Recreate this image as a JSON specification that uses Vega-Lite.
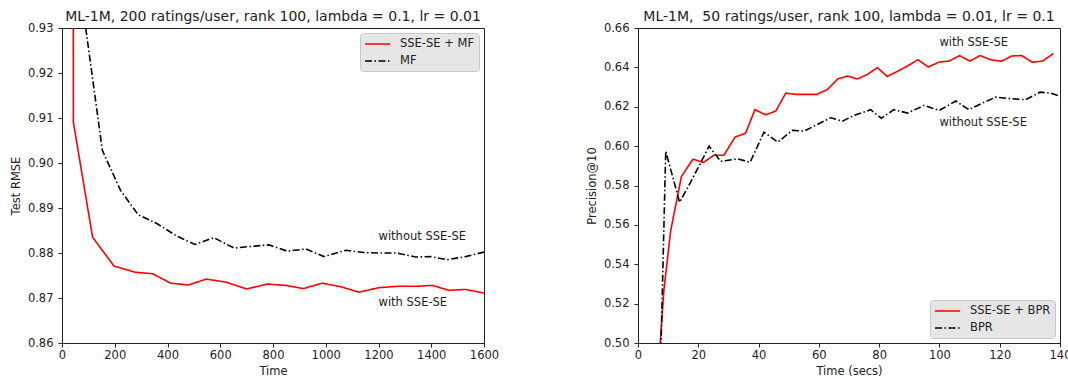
{
  "$schema": "https://vega.github.io/schema/vega-lite/v6.json",
  "background": "white",
  "padding": {"left": 9, "top": 9, "right": 0, "bottom": 0},
  "spacing": 154,
  "bounds": "flush",
  "config": {
    "font": "DejaVu Sans",
    "view": {"stroke": "#222", "strokeWidth": 1},
    "axis": {
      "grid": false,
      "domainColor": "#222",
      "tickColor": "#222",
      "tickSize": 4,
      "labelFont": "DejaVu Sans",
      "labelFontSize": 11.5,
      "labelColor": "#222",
      "labelOverlap": false,
      "labelFlush": false,
      "labelSeparation": 0,
      "titleFont": "DejaVu Sans",
      "titleFontSize": 11.5,
      "titleFontWeight": "normal",
      "titleColor": "#222",
      "labelPadding": 2
    },
    "title": {"font": "DejaVu Sans", "fontSize": 14, "fontWeight": "normal", "color": "#222", "offset": -2},
    "legend": {
      "labelFont": "DejaVu Sans",
      "labelFontSize": 11.5,
      "labelColor": "#222",
      "fillColor": "#e6e6e6",
      "strokeColor": "#c8c8c8",
      "cornerRadius": 3,
      "padding": 4,
      "symbolType": "M-1,0H3.2",
      "symbolSize": 144,
      "symbolStrokeWidth": 1.6,
      "rowPadding": 4,
      "labelOffset": 22,
      "title": null
    }
  },
  "datasets": {
    "rmse": [
      {"series": "SSE-SE + MF", "time": 42.5, "value": 1.0},
      {"series": "SSE-SE + MF", "time": 43, "value": 0.9091},
      {"series": "SSE-SE + MF", "time": 116, "value": 0.8835},
      {"series": "SSE-SE + MF", "time": 197, "value": 0.8771},
      {"series": "SSE-SE + MF", "time": 279, "value": 0.8757},
      {"series": "SSE-SE + MF", "time": 343, "value": 0.8754},
      {"series": "SSE-SE + MF", "time": 412, "value": 0.8733},
      {"series": "SSE-SE + MF", "time": 479, "value": 0.8729},
      {"series": "SSE-SE + MF", "time": 548, "value": 0.8742},
      {"series": "SSE-SE + MF", "time": 624, "value": 0.8735},
      {"series": "SSE-SE + MF", "time": 700, "value": 0.872},
      {"series": "SSE-SE + MF", "time": 779, "value": 0.8731},
      {"series": "SSE-SE + MF", "time": 848, "value": 0.8728},
      {"series": "SSE-SE + MF", "time": 915, "value": 0.8721},
      {"series": "SSE-SE + MF", "time": 987, "value": 0.8733},
      {"series": "SSE-SE + MF", "time": 1057, "value": 0.8725},
      {"series": "SSE-SE + MF", "time": 1126, "value": 0.8713},
      {"series": "SSE-SE + MF", "time": 1202, "value": 0.8723},
      {"series": "SSE-SE + MF", "time": 1271, "value": 0.8726},
      {"series": "SSE-SE + MF", "time": 1341, "value": 0.8726},
      {"series": "SSE-SE + MF", "time": 1404, "value": 0.8728},
      {"series": "SSE-SE + MF", "time": 1467, "value": 0.8717},
      {"series": "SSE-SE + MF", "time": 1530, "value": 0.8719},
      {"series": "SSE-SE + MF", "time": 1600, "value": 0.8711},
      {"series": "MF", "time": 83, "value": 0.933},
      {"series": "MF", "time": 153, "value": 0.9028},
      {"series": "MF", "time": 222, "value": 0.8939},
      {"series": "MF", "time": 289, "value": 0.8885},
      {"series": "MF", "time": 361, "value": 0.8865},
      {"series": "MF", "time": 431, "value": 0.8839},
      {"series": "MF", "time": 504, "value": 0.8819},
      {"series": "MF", "time": 576, "value": 0.8834},
      {"series": "MF", "time": 652, "value": 0.8811},
      {"series": "MF", "time": 722, "value": 0.8815},
      {"series": "MF", "time": 785, "value": 0.8818},
      {"series": "MF", "time": 854, "value": 0.8804},
      {"series": "MF", "time": 924, "value": 0.8809},
      {"series": "MF", "time": 993, "value": 0.8792},
      {"series": "MF", "time": 1076, "value": 0.8806},
      {"series": "MF", "time": 1145, "value": 0.8801},
      {"series": "MF", "time": 1202, "value": 0.88},
      {"series": "MF", "time": 1271, "value": 0.88},
      {"series": "MF", "time": 1341, "value": 0.8791},
      {"series": "MF", "time": 1398, "value": 0.8792},
      {"series": "MF", "time": 1461, "value": 0.8785},
      {"series": "MF", "time": 1530, "value": 0.8792},
      {"series": "MF", "time": 1600, "value": 0.8802}
    ],
    "rmseNotes": [
      {"label": "without SSE-SE", "time": 1200, "value": 0.8835},
      {"label": "with SSE-SE", "time": 1200, "value": 0.869}
    ],
    "prec": [
      {"series": "SSE-SE + BPR", "time": 6.9, "value": 0.49},
      {"series": "SSE-SE + BPR", "time": 8.6, "value": 0.527},
      {"series": "SSE-SE + BPR", "time": 10.85, "value": 0.5571},
      {"series": "SSE-SE + BPR", "time": 14.4, "value": 0.5846},
      {"series": "SSE-SE + BPR", "time": 18.25, "value": 0.5934},
      {"series": "SSE-SE + BPR", "time": 21.7, "value": 0.5917},
      {"series": "SSE-SE + BPR", "time": 25.2, "value": 0.5954},
      {"series": "SSE-SE + BPR", "time": 28.5, "value": 0.5954},
      {"series": "SSE-SE + BPR", "time": 32.2, "value": 0.6046},
      {"series": "SSE-SE + BPR", "time": 35.7, "value": 0.6066},
      {"series": "SSE-SE + BPR", "time": 38.8, "value": 0.6185},
      {"series": "SSE-SE + BPR", "time": 42.4, "value": 0.6159},
      {"series": "SSE-SE + BPR", "time": 45.7, "value": 0.6178},
      {"series": "SSE-SE + BPR", "time": 49.0, "value": 0.6269},
      {"series": "SSE-SE + BPR", "time": 52.5, "value": 0.6263},
      {"series": "SSE-SE + BPR", "time": 55.9, "value": 0.6263},
      {"series": "SSE-SE + BPR", "time": 59.3, "value": 0.6263},
      {"series": "SSE-SE + BPR", "time": 62.8, "value": 0.6287},
      {"series": "SSE-SE + BPR", "time": 66.4, "value": 0.6343},
      {"series": "SSE-SE + BPR", "time": 69.6, "value": 0.6356},
      {"series": "SSE-SE + BPR", "time": 72.8, "value": 0.6341},
      {"series": "SSE-SE + BPR", "time": 76.1, "value": 0.6364},
      {"series": "SSE-SE + BPR", "time": 79.4, "value": 0.6399},
      {"series": "SSE-SE + BPR", "time": 82.7, "value": 0.6354},
      {"series": "SSE-SE + BPR", "time": 86.1, "value": 0.638},
      {"series": "SSE-SE + BPR", "time": 89.4, "value": 0.6407},
      {"series": "SSE-SE + BPR", "time": 92.9, "value": 0.6439},
      {"series": "SSE-SE + BPR", "time": 96.3, "value": 0.6402},
      {"series": "SSE-SE + BPR", "time": 99.9, "value": 0.6427},
      {"series": "SSE-SE + BPR", "time": 103.2, "value": 0.6432},
      {"series": "SSE-SE + BPR", "time": 106.7, "value": 0.646},
      {"series": "SSE-SE + BPR", "time": 110.1, "value": 0.6432},
      {"series": "SSE-SE + BPR", "time": 113.5, "value": 0.646},
      {"series": "SSE-SE + BPR", "time": 117.0, "value": 0.6439},
      {"series": "SSE-SE + BPR", "time": 120.6, "value": 0.6431},
      {"series": "SSE-SE + BPR", "time": 124.0, "value": 0.6458},
      {"series": "SSE-SE + BPR", "time": 127.3, "value": 0.646},
      {"series": "SSE-SE + BPR", "time": 130.8, "value": 0.6426},
      {"series": "SSE-SE + BPR", "time": 134.2, "value": 0.6432},
      {"series": "SSE-SE + BPR", "time": 137.8, "value": 0.647},
      {"series": "BPR", "time": 7.5, "value": 0.49},
      {"series": "BPR", "time": 9.2, "value": 0.5974},
      {"series": "BPR", "time": 13.8, "value": 0.5715},
      {"series": "BPR", "time": 17.2, "value": 0.581},
      {"series": "BPR", "time": 20.6, "value": 0.591},
      {"series": "BPR", "time": 23.6, "value": 0.6},
      {"series": "BPR", "time": 27.4, "value": 0.5923},
      {"series": "BPR", "time": 33.0, "value": 0.5935},
      {"series": "BPR", "time": 37.2, "value": 0.5918},
      {"series": "BPR", "time": 41.8, "value": 0.6071},
      {"series": "BPR", "time": 46.4, "value": 0.602},
      {"series": "BPR", "time": 51.2, "value": 0.608},
      {"series": "BPR", "time": 55.1, "value": 0.6076},
      {"series": "BPR", "time": 59.5, "value": 0.611},
      {"series": "BPR", "time": 63.9, "value": 0.6144},
      {"series": "BPR", "time": 67.8, "value": 0.6127},
      {"series": "BPR", "time": 71.7, "value": 0.6156},
      {"series": "BPR", "time": 77.2, "value": 0.6185},
      {"series": "BPR", "time": 80.7, "value": 0.6142},
      {"series": "BPR", "time": 84.9, "value": 0.6185},
      {"series": "BPR", "time": 89.4, "value": 0.6168},
      {"series": "BPR", "time": 94.9, "value": 0.6207},
      {"series": "BPR", "time": 99.9, "value": 0.6181},
      {"series": "BPR", "time": 105.4, "value": 0.6229},
      {"series": "BPR", "time": 109.8, "value": 0.6185},
      {"series": "BPR", "time": 114.3, "value": 0.6219},
      {"series": "BPR", "time": 118.7, "value": 0.6249},
      {"series": "BPR", "time": 123.6, "value": 0.6241},
      {"series": "BPR", "time": 128.6, "value": 0.6236},
      {"series": "BPR", "time": 133.4, "value": 0.6274},
      {"series": "BPR", "time": 137.0, "value": 0.6269},
      {"series": "BPR", "time": 140.2, "value": 0.6253}
    ],
    "precNotes": [
      {"label": "with SSE-SE", "time": 100, "value": 0.6524},
      {"label": "without SSE-SE", "time": 100, "value": 0.6117}
    ]
  },
  "hconcat": [
    {
      "width": 422,
      "height": 315,
      "title": "ML-1M, 200 ratings/user, rank 100, lambda = 0.1, lr = 0.01",
      "layer": [
        {
          "data": {"name": "rmse"},
          "mark": {"type": "line", "clip": true, "strokeWidth": 1.6},
          "encoding": {
            "x": {"field": "time", "type": "quantitative", "title": "Time",
                  "scale": {"domain": [0, 1600], "nice": false, "zero": false},
                  "axis": {"values": [0, 200, 400, 600, 800, 1000, 1200, 1400, 1600], "format": "d", "titlePadding": 5, "labelOverlap": false}},
            "y": {"field": "value", "type": "quantitative", "title": "Test RMSE",
                  "scale": {"domain": [0.86, 0.93], "nice": false, "zero": false},
                  "axis": {"values": [0.86, 0.87, 0.88, 0.89, 0.9, 0.91, 0.92, 0.93], "format": ".2f", "labelPadding": 5, "titlePadding": 6, "labelOverlap": false}},
            "color": {"field": "series", "type": "nominal",
                      "scale": {"domain": ["SSE-SE + MF", "MF"], "range": ["#ff0000", "#000000"]},
                      "legend": {"orient": "top-right", "offset": 5}},
            "strokeDash": {"field": "series", "type": "nominal",
                           "scale": {"domain": ["SSE-SE + MF", "MF"], "range": [[1, 0], [7, 2.5, 1.5, 2.5]]},
                           "legend": {"orient": "top-right", "offset": 5}},
            "order": {"field": "time", "type": "quantitative"}
          }
        },
        {
          "data": {"name": "rmseNotes"},
          "mark": {"type": "text", "align": "left", "baseline": "middle", "fontSize": 11.5, "color": "#222", "font": "DejaVu Sans"},
          "encoding": {
            "x": {"field": "time", "type": "quantitative", "title": "Time",
                  "axis": {"values": [0, 200, 400, 600, 800, 1000, 1200, 1400, 1600], "format": "d", "titlePadding": 5, "labelOverlap": false}},
            "y": {"field": "value", "type": "quantitative", "title": "Test RMSE",
                  "axis": {"values": [0.86, 0.87, 0.88, 0.89, 0.9, 0.91, 0.92, 0.93], "format": ".2f", "labelPadding": 5, "titlePadding": 6, "labelOverlap": false}},
            "text": {"field": "label"}
          }
        }
      ]
    },
    {
      "width": 422,
      "height": 315,
      "title": "ML-1M, \u00a050 ratings/user, rank 100, lambda = 0.01, lr = 0.1",
      "layer": [
        {
          "data": {"name": "prec"},
          "mark": {"type": "line", "clip": true, "strokeWidth": 1.6},
          "encoding": {
            "x": {"field": "time", "type": "quantitative", "title": "Time (secs)",
                  "scale": {"domain": [0, 140], "nice": false, "zero": false},
                  "axis": {"values": [0, 20, 40, 60, 80, 100, 120, 140], "format": "d", "titlePadding": 5, "labelOverlap": false}},
            "y": {"field": "value", "type": "quantitative", "title": "Precision@10",
                  "scale": {"domain": [0.5, 0.66], "nice": false, "zero": false},
                  "axis": {"values": [0.5, 0.52, 0.54, 0.56, 0.58, 0.6, 0.62, 0.64, 0.66], "format": ".2f", "labelPadding": 5, "titlePadding": 6, "labelOverlap": false}},
            "color": {"field": "series", "type": "nominal",
                      "scale": {"domain": ["SSE-SE + BPR", "BPR"], "range": ["#ff0000", "#000000"]},
                      "legend": {"orient": "bottom-right", "offset": 5}},
            "strokeDash": {"field": "series", "type": "nominal",
                           "scale": {"domain": ["SSE-SE + BPR", "BPR"], "range": [[1, 0], [7, 2.5, 1.5, 2.5]]},
                           "legend": {"orient": "bottom-right", "offset": 5}},
            "order": {"field": "time", "type": "quantitative"}
          }
        },
        {
          "data": {"name": "precNotes"},
          "mark": {"type": "text", "align": "left", "baseline": "middle", "fontSize": 11.5, "color": "#222", "font": "DejaVu Sans"},
          "encoding": {
            "x": {"field": "time", "type": "quantitative", "title": "Time (secs)",
                  "axis": {"values": [0, 20, 40, 60, 80, 100, 120, 140], "format": "d", "titlePadding": 5, "labelOverlap": false}},
            "y": {"field": "value", "type": "quantitative", "title": "Precision@10",
                  "axis": {"values": [0.5, 0.52, 0.54, 0.56, 0.58, 0.6, 0.62, 0.64, 0.66], "format": ".2f", "labelPadding": 5, "titlePadding": 6, "labelOverlap": false}},
            "text": {"field": "label"}
          }
        }
      ]
    }
  ],
  "resolve": {"scale": {"color": "independent", "strokeDash": "independent"}, "legend": {"color": "independent", "strokeDash": "independent"}}
}
